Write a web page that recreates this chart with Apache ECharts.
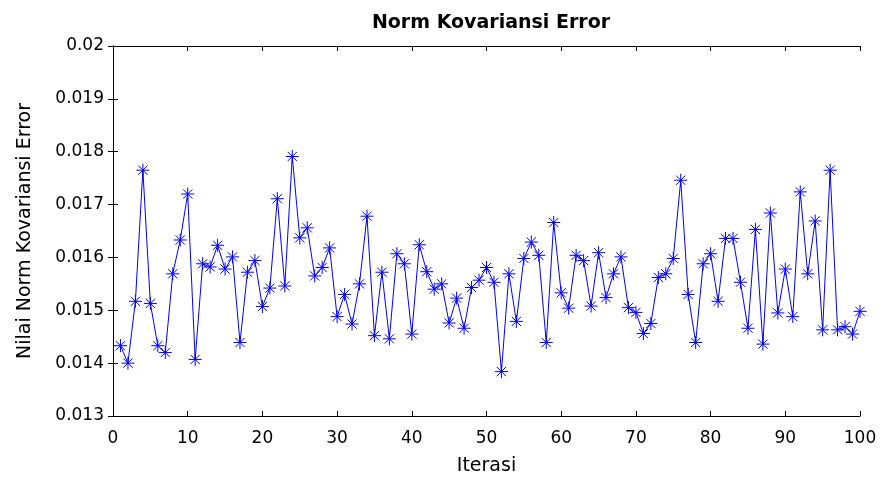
<!DOCTYPE html>
<html>
<head>
<meta charset="utf-8">
<script src="https://cdn.jsdelivr.net/npm/echarts@6/dist/echarts.min.js"></script>
<style>
html,body{margin:0;padding:0;background:#fff;}
#chart{width:883px;height:481px;}
</style>
</head>
<body>
<div id="chart"></div>
<script>
var chartTitle = 'Norm Kovariansi Error';
var xAxisName = 'Iterasi';
var yAxisName = 'Nilai Norm Kovariansi Error';
var iterations = [1,2,3,4,5,6,7,8,9,10,11,12,13,14,15,16,17,18,19,20,
  21,22,23,24,25,26,27,28,29,30,31,32,33,34,35,36,37,38,39,40,
  41,42,43,44,45,46,47,48,49,50,51,52,53,54,55,56,57,58,59,60,
  61,62,63,64,65,66,67,68,69,70,71,72,73,74,75,76,77,78,79,80,
  81,82,83,84,85,86,87,88,89,90,91,92,93,94,95,96,97,98,99,100];
var errorValues = [
  0.01433,0.01400,0.01517,0.01765,0.01513,0.01433,0.01420,0.01569,0.01633,0.01720,
  0.01407,0.01588,0.01582,0.01623,0.01578,0.01601,0.01439,0.01572,0.01594,0.01507,
  0.01542,0.01711,0.01546,0.01791,0.01637,0.01656,0.01565,0.01581,0.01618,0.01488,
  0.01530,0.01474,0.01550,0.01678,0.01452,0.01572,0.01446,0.01607,0.01588,0.01455,
  0.01624,0.01573,0.01540,0.01550,0.01476,0.01523,0.01466,0.01543,0.01557,0.01581,
  0.01553,0.01384,0.01569,0.01479,0.01598,0.01629,0.01604,0.01439,0.01666,0.01533,
  0.01504,0.01604,0.01594,0.01508,0.01609,0.01524,0.01569,0.01601,0.01505,0.01496,
  0.01456,0.01475,0.01562,0.01569,0.01598,0.01746,0.01530,0.01439,0.01588,0.01607,
  0.01517,0.01636,0.01636,0.01553,0.01466,0.01653,0.01436,0.01684,0.01495,0.01578,
  0.01488,0.01724,0.01569,0.01669,0.01463,0.01765,0.01463,0.01469,0.01455,0.01498];
var xMin = 0, xMax = 100, xStep = 10;
var yMin = 0.013, yMax = 0.02, yStep = 0.001;

var seriesData = iterations.map(function (it, i) { return [it, errorValues[i]]; });
var asterisk = 'path://M0,5L10,5M5,0L5,10M1.46,1.46L8.54,8.54M8.54,1.46L1.46,8.54';
var font = 'DejaVu Sans';

var chart = echarts.init(document.getElementById('chart'), null, {renderer: 'canvas'});
var frameAxis = {
  axisLine: {show: true, lineStyle: {color: '#000', width: 1}},
  axisTick: {show: true, inside: true, length: 5, lineStyle: {color: '#000', width: 1}},
  splitLine: {show: false}
};
chart.setOption({
  animation: false,
  backgroundColor: '#fff',
  title: {
    text: chartTitle, left: 486, top: 9, textAlign: 'center',
    textStyle: {fontFamily: font, fontWeight: 'bold', fontSize: 19, color: '#000'}
  },
  grid: {left: 113, right: 23, top: 46, bottom: 65, containLabel: false},
  xAxis: [
    Object.assign({
      type: 'value', min: xMin, max: xMax, interval: xStep, position: 'bottom',
      name: xAxisName, nameLocation: 'middle', nameGap: 41,
      nameTextStyle: {fontFamily: font, fontSize: 19, color: '#000'},
      axisLabel: {fontFamily: font, fontSize: 17, color: '#000', margin: 14}
    }, frameAxis),
    Object.assign({
      type: 'value', min: xMin, max: xMax, interval: xStep, position: 'top',
      axisLabel: {show: false}
    }, frameAxis)
  ],
  yAxis: [
    Object.assign({
      type: 'value', min: yMin, max: yMax, interval: yStep, position: 'left',
      name: yAxisName, nameLocation: 'middle', nameGap: 78, nameRotate: 90,
      nameTextStyle: {fontFamily: font, fontSize: 19, color: '#000'},
      axisLabel: {fontFamily: font, fontSize: 17, color: '#000', margin: 9,
        formatter: function (v) { return String(+v.toFixed(3)); }}
    }, frameAxis),
    Object.assign({
      type: 'value', min: yMin, max: yMax, interval: yStep, position: 'right',
      axisLabel: {show: false}
    }, frameAxis)
  ],
  series: [{
    type: 'line',
    xAxisIndex: 0, yAxisIndex: 0,
    data: seriesData,
    showSymbol: true, showAllSymbol: true,
    symbol: asterisk, symbolSize: 13,
    lineStyle: {color: '#0000ff', width: 1},
    itemStyle: {color: '#0000ff', borderColor: '#0000ff', borderWidth: 1},
    emphasis: {disabled: true}
  }]
});
</script>
</body>
</html>
